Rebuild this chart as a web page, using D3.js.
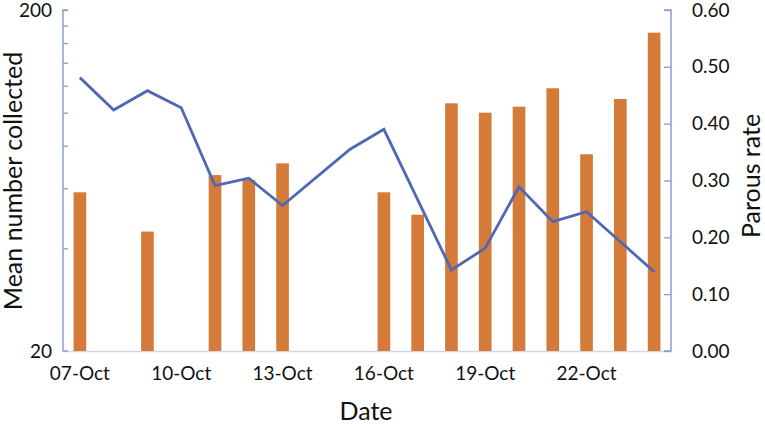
<!DOCTYPE html>
<html>
<head>
<meta charset="utf-8">
<script src="https://cdn.jsdelivr.net/npm/d3@7"></script>
<style>
  html, body { margin: 0; padding: 0; background: #ffffff; }
  svg { display: block; }
  text { font-family: Lato, "Open Sans", sans-serif; fill: #111; }
</style>
</head>
<body>
<svg id="chart" width="765" height="424"></svg>
<script>
// ---- data ----
const dates = ["07-Oct","08-Oct","09-Oct","10-Oct","11-Oct","12-Oct","13-Oct","14-Oct","15-Oct",
               "16-Oct","17-Oct","18-Oct","19-Oct","20-Oct","21-Oct","22-Oct","23-Oct","24-Oct"];
const meanCollected = [58.4, null, 44.8, null, 65.6, 63.5, 71.0, null, null,
                       58.4, 50.2, 106.5, 100.0, 104.1, 117.9, 75.5, 109.7, 171.6];
const parousRate = [0.481, 0.424, 0.458, 0.428, 0.291, 0.304, 0.256, null, 0.355,
                    0.390, null, 0.1425, 0.181, 0.289, 0.2275, 0.245, null, 0.1395];
const xTickLabels = ["07-Oct","10-Oct","13-Oct","16-Oct","19-Oct","22-Oct"];
const leftTicks = [20, 40, 60, 80, 100, 120, 140, 160, 180, 200];
const leftLabels = [20, 200];
const rightTicks = [0, 0.1, 0.2, 0.3, 0.4, 0.5, 0.6];

// ---- layout ----
const L = 63, R = 671, T = 10, B = 351;
const svg = d3.select("#chart");

const x = d3.scaleBand().domain(dates).range([L, R]).padding(0);
const yL = d3.scaleLog().domain([20, 200]).range([B, T]);
const yR = d3.scaleLinear().domain([0, 0.6]).range([B, T]);

const axisColor = "#8c9ecb";
const barColor = "#d57b3a";
const lineColor = "#4f67b5";

// bottom axis baseline
svg.append("line").attr("x1", L).attr("x2", R).attr("y1", B + 0.5).attr("y2", B + 0.5)
  .attr("stroke", "#d3d7e2").attr("stroke-width", 1.5);

// bars
const barW = x.bandwidth() * 0.375;
svg.append("g").selectAll("rect")
  .data(dates.map((d, i) => ({ d, v: meanCollected[i] })).filter(o => o.v != null))
  .join("rect")
  .attr("x", o => x(o.d) + x.bandwidth() / 2 - barW / 2)
  .attr("width", barW)
  .attr("y", o => yL(o.v))
  .attr("height", o => B - yL(o.v))
  .attr("fill", barColor);

// line
const pts = dates.map((d, i) => ({ d, v: parousRate[i] })).filter(o => o.v != null);
svg.append("path")
  .datum(pts)
  .attr("fill", "none")
  .attr("stroke", lineColor)
  .attr("stroke-width", 2.8)
  .attr("stroke-linejoin", "miter")
  .attr("d", d3.line().x(o => x(o.d) + x.bandwidth() / 2).y(o => yR(o.v)));

// left axis
const gL = svg.append("g").attr("transform", `translate(${L},0)`);
gL.call(d3.axisRight(yL).tickValues(leftTicks).tickSize(5).tickFormat(""));
gL.select(".domain").attr("stroke", axisColor).attr("stroke-width", 1.5).attr("d", `M5,${T}H0V${B}H5`);
gL.selectAll(".tick line").attr("stroke", axisColor).attr("stroke-width", 1.3);
gL.selectAll(".tick").filter(d => d === 20).select("line").remove();
svg.append("g").selectAll("text").data(leftLabels).join("text")
  .attr("x", L - 11).attr("y", d => yL(d)).attr("dy", "0.35em")
  .attr("text-anchor", "end").attr("font-size", 19).text(d => d);

// right axis
const gR = svg.append("g").attr("transform", `translate(${R},0)`);
gR.call(d3.axisLeft(yR).tickValues(rightTicks).tickSize(7).tickFormat(""));
gR.select(".domain").attr("stroke", axisColor).attr("stroke-width", 1.5).attr("d", `M-7,${T}H0V${B}H-7`);
gR.selectAll(".tick line").attr("stroke", axisColor).attr("stroke-width", 1.3);
svg.append("g").selectAll("text").data(rightTicks).join("text")
  .attr("x", R + 21).attr("y", d => yR(d)).attr("dy", "0.35em")
  .attr("text-anchor", "start").attr("font-size", 19).text(d => d3.format(".2f")(d));

// x tick labels
svg.append("g").selectAll("text").data(xTickLabels).join("text")
  .attr("x", d => x(d) + x.bandwidth() / 2).attr("y", 380)
  .attr("text-anchor", "middle").attr("font-size", 19).text(d => d);

// axis titles
svg.append("text").attr("x", 366).attr("y", 420).attr("text-anchor", "middle")
  .attr("font-size", 25).text("Date");
svg.append("text").attr("transform", `translate(22,181) rotate(-90)`)
  .attr("text-anchor", "middle").attr("font-size", 25).text("Mean number collected");
svg.append("text").attr("transform", `translate(760,176) rotate(-90)`)
  .attr("text-anchor", "middle").attr("font-size", 25).text("Parous rate");
</script>
</body>
</html>
